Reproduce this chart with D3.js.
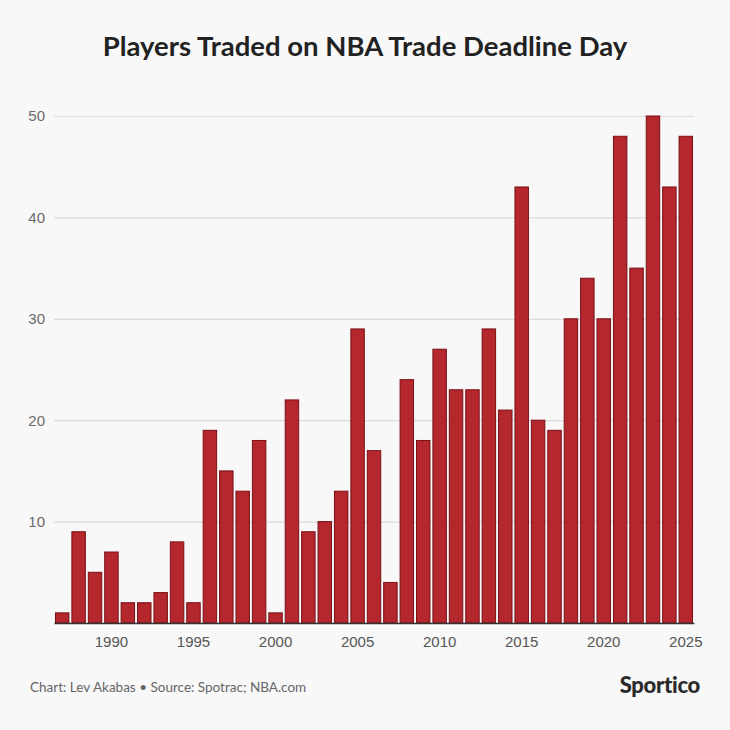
<!DOCTYPE html>
<html>
<head>
<meta charset="utf-8">
<script src="https://cdn.jsdelivr.net/npm/d3@7"></script>
<style>
  body { margin: 0; background: #f8f8f8; }
  svg { display: block; font-family: "Lato", "Noto Sans", sans-serif; }
</style>
</head>
<body>
<div id="wrapper"></div>
<script>
const years = d3.range(1987, 2026)
const traded = [1, 9, 5, 7, 2, 2, 3, 8, 2, 19, 15, 13, 18, 1, 22, 9, 10, 13, 29, 17,
  4, 24, 18, 27, 23, 23, 29, 21, 43, 20, 19, 30, 34, 30, 48, 35, 50, 43, 48]
const yTicks = [10, 20, 30, 40, 50]
const xTicks = [1990, 1995, 2000, 2005, 2010, 2015, 2020, 2025]

const dataset = years.map((y, i) => ({ year: y, count: traded[i] }))

const dimensions = {
  width: 730,
  height: 730,
  margin: { top: 116, right: 36, bottom: 107, left: 54 },
}
dimensions.boundedWidth = dimensions.width - dimensions.margin.left - dimensions.margin.right
dimensions.boundedHeight = dimensions.height - dimensions.margin.top - dimensions.margin.bottom

const wrapper = d3.select("#wrapper")
  .append("svg")
    .attr("width", dimensions.width)
    .attr("height", dimensions.height)

wrapper.append("rect")
    .attr("width", dimensions.width)
    .attr("height", dimensions.height)
    .attr("fill", "#f8f8f8")

const bounds = wrapper.append("g")
    .attr("transform", `translate(${dimensions.margin.left},${dimensions.margin.top})`)

// scales
const xScale = d3.scaleBand()
  .domain(years)
  .range([0, dimensions.boundedWidth])
  .paddingInner(0.18)
  .paddingOuter(0.09)

const yScale = d3.scaleLinear()
  .domain([0, 50])
  .range([dimensions.boundedHeight, 0])

// gridlines + y labels
const yAxis = bounds.append("g")
  .call(d3.axisLeft(yScale)
    .tickValues(yTicks)
    .tickSize(-dimensions.boundedWidth)
    .tickPadding(9))
yAxis.select(".domain").remove()
yAxis.selectAll(".tick line").attr("stroke", "#dcdcdc").attr("stroke-width", 1.2)
yAxis.selectAll(".tick text")
    .attr("fill", "#6a6a6a")
    .style("font-size", "15px")
    .style("font-weight", 300)

// bars
bounds.selectAll("rect.bar")
  .data(dataset)
  .enter().append("rect")
    .attr("class", "bar")
    .attr("x", d => xScale(d.year))
    .attr("y", d => yScale(d.count))
    .attr("width", xScale.bandwidth())
    .attr("height", d => dimensions.boundedHeight - yScale(d.count))
    .attr("fill", "#b3272d")
    .attr("stroke", "#7a1016")
    .attr("stroke-width", 1)

// x axis
const xAxis = bounds.append("g")
    .attr("transform", `translate(0,${dimensions.boundedHeight})`)
  .call(d3.axisBottom(xScale)
    .tickValues(xTicks)
    .tickSize(0)
    .tickPadding(13))
xAxis.select(".domain")
    .attr("stroke", "#333")
    .attr("stroke-width", 1.5)
xAxis.selectAll(".tick text")
    .attr("fill", "#555")
    .style("font-size", "15px")
    .style("font-weight", 300)

// title
wrapper.append("text")
    .attr("x", dimensions.width / 2)
    .attr("y", 56)
    .attr("text-anchor", "middle")
    .attr("fill", "#222")
    .style("font-size", "27.5px")
    .style("font-weight", 700)
    .text("Players Traded on NBA Trade Deadline Day")

// footer
wrapper.append("text")
    .attr("x", 30)
    .attr("y", 692)
    .attr("fill", "#666")
    .style("font-size", "13.5px")
    .text("Chart: Lev Akabas • Source: Spotrac; NBA.com")

wrapper.append("text")
    .attr("x", 700)
    .attr("y", 693)
    .attr("text-anchor", "end")
    .attr("fill", "#2a2a2a")
    .style("font-size", "22px")
    .style("font-weight", 900)
    .style("letter-spacing", "-0.3px")
    .text("Sportico")
</script>
</body>
</html>
